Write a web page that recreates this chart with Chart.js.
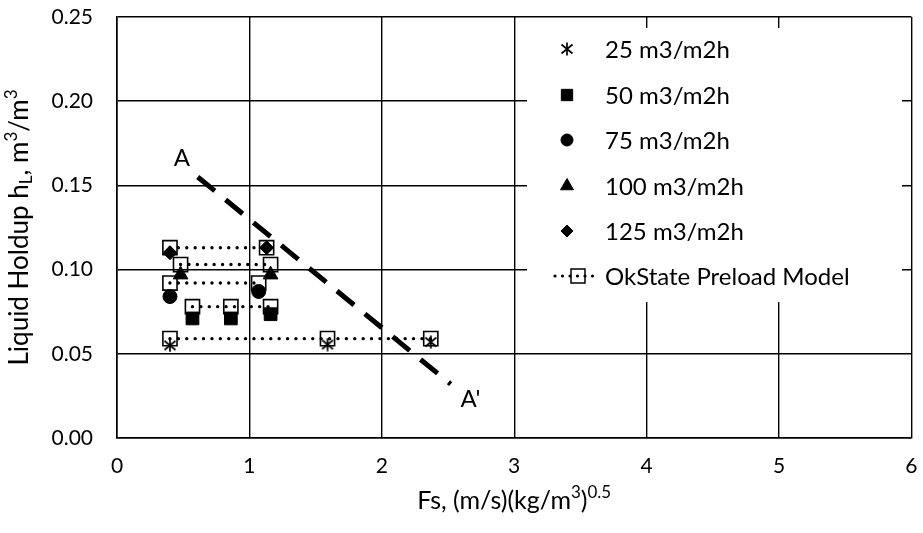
<!DOCTYPE html>
<html>
<head>
<meta charset="utf-8">
<script src="https://cdn.jsdelivr.net/npm/chart.js@4/dist/chart.umd.min.js"></script>
<style>
  html, body { margin: 0; padding: 0; background: #fff; }
  #wrap { width: 923px; height: 533px; position: relative; }
</style>
</head>
<body>
<div id="wrap"><canvas id="holdupChart"></canvas></div>
<script>
// ── DATA ─────────────────────────────────────────────────
// measured liquid holdup, one pair of arrays per liquid load
const exp25Fs  = [0.40, 1.59, 2.37];
const exp25Hl  = [0.055, 0.0555, 0.057];
const exp50Fs  = [0.57, 0.86, 1.16];
const exp50Hl  = [0.071, 0.071, 0.0735];
const exp75Fs  = [0.40, 1.07];
const exp75Hl  = [0.084, 0.087];
const exp100Fs = [0.48, 1.16];
const exp100Hl = [0.097, 0.097];
const exp125Fs = [0.40, 1.13];
const exp125Hl = [0.110, 0.113];

// OkState preload model (flat below loading point)
const model25Fs  = [0.40, 1.59, 2.37];
const model25Hl  = [0.059, 0.059, 0.059];
const model50Fs  = [0.57, 0.86, 1.16];
const model50Hl  = [0.078, 0.078, 0.078];
const model75Fs  = [0.40, 1.07];
const model75Hl  = [0.092, 0.092];
const model100Fs = [0.48, 1.16];
const model100Hl = [0.103, 0.103];
const model125Fs = [0.40, 1.13];
const model125Hl = [0.113, 0.113];

// loading line A - A'
const lineFs = [0.61, 2.52];
const lineHl = [0.155, 0.032];
const lineLabelFs   = [0.49, 2.67];
const lineLabelHl   = [0.166, 0.023];
const lineLabelText = ['A', "A'"];

const legendLabels = ['25 m3/m2h', '50 m3/m2h', '75 m3/m2h', '100 m3/m2h', '125 m3/m2h', 'OkState Preload Model'];

const xTicks = [0, 1, 2, 3, 4, 5, 6];
const yTicks = [0, 0.05, 0.10, 0.15, 0.20, 0.25];

const FONT = 'Lato, "Open Sans", sans-serif';

const pts = (xs, ys) => xs.map((x, i) => ({ x, y: ys[i] }));

// six-armed asterisk marker
function makeStar() {
    const c = document.createElement('canvas');
    c.width = 14; c.height = 14;
    const g = c.getContext('2d');
    g.strokeStyle = '#000';
    g.lineWidth = 1.7;
    g.beginPath();
    g.moveTo(7, 0.5);  g.lineTo(7, 13.5);
    g.moveTo(1.5, 2.5); g.lineTo(12.5, 11.5);
    g.moveTo(1.5, 11.5); g.lineTo(12.5, 2.5);
    g.stroke();
    return c;
}
const starImg = makeStar();

const expStyle = (style, r) => ({
    showLine: false,
    pointStyle: style,
    pointRadius: r,
    pointHoverRadius: r,
    pointBackgroundColor: '#000',
    pointBorderColor: '#000',
    pointBorderWidth: 1
});

const modelStyle = {
    showLine: true,
    borderColor: '#000',
    borderWidth: 3.4,
    borderDash: [0, 8.4],
    borderCapStyle: 'round',
    pointStyle: 'rect',
    pointRadius: 10,
    pointHoverRadius: 10,
    pointBackgroundColor: 'transparent',
    pointBorderColor: '#000',
    pointBorderWidth: 1.6
};

const datasets = [
    { label: legendLabels[0], data: pts(exp25Fs, exp25Hl),   ...expStyle(starImg, 7) },
    { label: legendLabels[1], data: pts(exp50Fs, exp50Hl),   ...expStyle('rect', 9) },
    { label: legendLabels[2], data: pts(exp75Fs, exp75Hl),   ...expStyle('circle', 7) },
    { label: legendLabels[3], data: pts(exp100Fs, exp100Hl), ...expStyle('triangle', 8.5) },
    { label: legendLabels[4], data: pts(exp125Fs, exp125Hl), ...expStyle('rectRot', 7) },
    { label: legendLabels[5], data: pts(model25Fs, model25Hl),   ...modelStyle },
    { label: '', data: pts(model50Fs, model50Hl),   ...modelStyle },
    { label: '', data: pts(model75Fs, model75Hl),   ...modelStyle },
    { label: '', data: pts(model100Fs, model100Hl), ...modelStyle },
    { label: '', data: pts(model125Fs, model125Hl), ...modelStyle },
    {
        label: '', data: pts(lineFs, lineHl),
        showLine: true, borderColor: '#000', borderWidth: 5,
        borderDash: [22, 14], borderCapStyle: 'butt', pointRadius: 0
    }
];

// ── RICH TEXT (sub/superscripts for axis titles) ─────────
function drawRich(ctx, parts, cx, cy, size, rotate) {
    const big = size + 'px ' + FONT;
    const small = Math.round(size * 0.66) + 'px ' + FONT;
    let total = 0;
    parts.forEach(p => { ctx.font = p.s ? small : big; p.w = ctx.measureText(p.t).width; total += p.w; });
    ctx.save();
    ctx.translate(cx, cy);
    if (rotate) ctx.rotate(-Math.PI / 2);
    ctx.fillStyle = '#000';
    ctx.textBaseline = 'middle';
    ctx.textAlign = 'left';
    let x = -total / 2;
    parts.forEach(p => {
        ctx.font = p.s ? small : big;
        const dy = p.s === 'sup' ? -size * 0.32 : p.s === 'sub' ? size * 0.25 : 0;
        ctx.fillText(p.t, x, dy);
        x += p.w;
    });
    ctx.restore();
}

const extrasPlugin = {
    id: 'extras',
    beforeDatasetsDraw(chart) {
        const ctx = chart.ctx;
        // legend sits inside the plot on a white box that hides the grid
        ctx.save();
        ctx.fillStyle = '#fff';
        ctx.fillRect(527, 28, 375, 274);
        ctx.restore();

        const textX = 605;
        const rows = [49, 95, 140, 186, 231, 276];
        rows.forEach((y, i) => {
            const ds = chart.data.datasets[i];
            ctx.save();
            if (i === 5) {
                ctx.strokeStyle = '#000';
                ctx.lineWidth = 3.2;
                ctx.lineCap = 'round';
                ctx.setLineDash([0, 7.5]);
                ctx.beginPath();
                ctx.moveTo(textX - 50, y);
                ctx.lineTo(textX - 6, y);
                ctx.stroke();
                ctx.setLineDash([]);
                ctx.lineWidth = 1.5;
                ctx.strokeRect(textX - 34, y - 7, 14, 14);
            } else {
                ctx.fillStyle = '#000';
                ctx.strokeStyle = '#000';
                ctx.lineWidth = 1;
                const r = i === 1 ? 8 : i === 3 ? 7.5 : 6;
                Chart.helpers.drawPoint(ctx, { pointStyle: ds.pointStyle, radius: r, rotation: 0, borderWidth: 1 }, textX - 38, y);
            }
            ctx.fillStyle = '#000';
            ctx.font = '24px ' + FONT;
            ctx.textBaseline = 'middle';
            ctx.textAlign = 'left';
            ctx.fillText(legendLabels[i], textX, y + 1);
            ctx.restore();
        });
    },
    afterDraw(chart) {
        const ctx = chart.ctx;
        const xs = chart.scales.x, ys = chart.scales.y;
        ctx.save();
        ctx.fillStyle = '#000';
        ctx.font = '24px ' + FONT;
        ctx.textAlign = 'center';
        ctx.textBaseline = 'middle';
        lineLabelText.forEach((t, i) => {
            ctx.fillText(t, xs.getPixelForValue(lineLabelFs[i]), ys.getPixelForValue(lineLabelHl[i]));
        });
        ctx.restore();

        const a = chart.chartArea;
        drawRich(ctx, [
            { t: 'Fs, (m/s)(kg/m' }, { t: '3', s: 'sup' }, { t: ')' }, { t: '0.5', s: 'sup' }
        ], (a.left + a.right) / 2, 501, 25, false);
        drawRich(ctx, [
            { t: 'Liquid Holdup h' }, { t: 'L', s: 'sub' }, { t: ', m' }, { t: '3', s: 'sup' },
            { t: '/m' }, { t: '3', s: 'sup' }
        ], 20, (a.top + a.bottom) / 2, 26, true);
    }
};

// ── RENDER CHART ─────────────────────────────────────────
Chart.defaults.color = '#000';
Chart.defaults.font.family = FONT;

new Chart(document.getElementById('holdupChart'), {
    type: 'scatter',
    data: { datasets },
    options: {
        responsive: true,
        maintainAspectRatio: false,
        animation: false,
        layout: { padding: { top: 17, right: 0, left: 0, bottom: 0 } },
        plugins: {
            legend: { display: false },
            tooltip: { enabled: false }
        },
        scales: {
            x: {
                type: 'linear',
                min: 0, max: 6,
                afterFit: s => { s.height = 95; s.paddingLeft = 0; s.paddingRight = 0; },
                afterBuildTicks: s => { s.ticks = xTicks.map(v => ({ value: v })); },
                ticks: { font: { size: 21 }, padding: 16 },
                grid: { color: '#000', lineWidth: 1.4, drawTicks: false },
                border: { color: '#000', width: 1.6 }
            },
            y: {
                type: 'linear',
                min: 0, max: 0.25,
                afterFit: s => { s.width = 117; s.paddingTop = 0; s.paddingBottom = 0; },
                afterBuildTicks: s => { s.ticks = yTicks.map(v => ({ value: v })); },
                ticks: { font: { size: 21 }, padding: 24, callback: v => v.toFixed(2) },
                grid: { color: '#000', lineWidth: 1.4, drawTicks: false },
                border: { color: '#000', width: 1.6 }
            }
        }
    },
    plugins: [extrasPlugin]
});
</script>
</body>
</html>
